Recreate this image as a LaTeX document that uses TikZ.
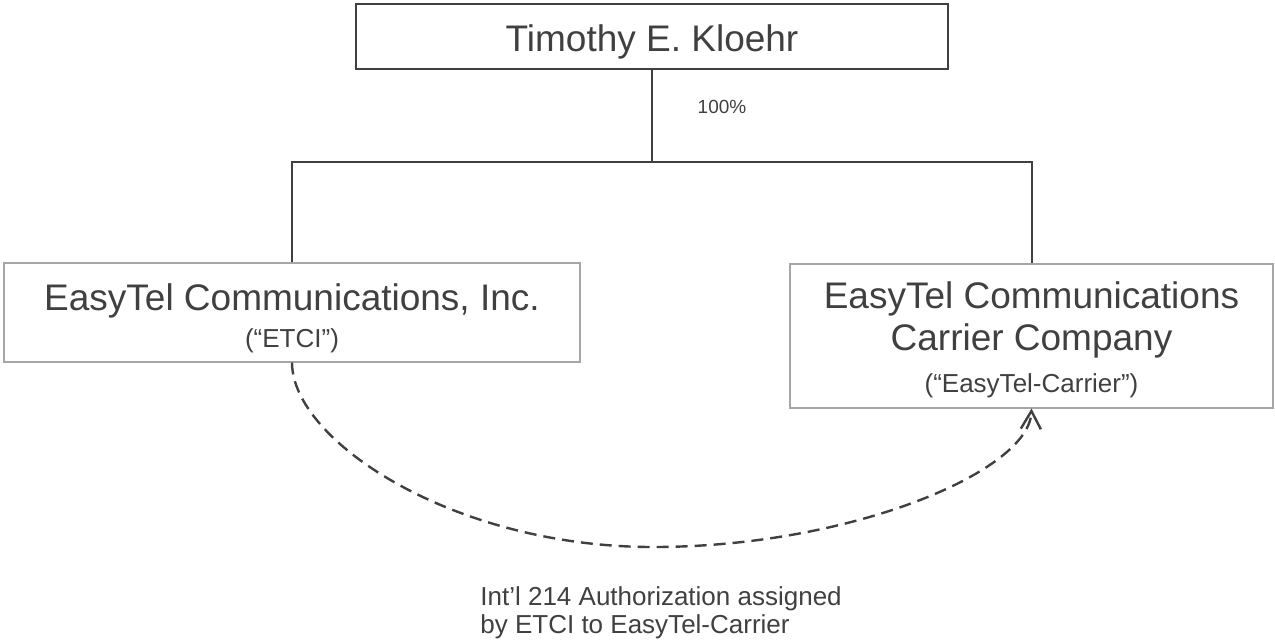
\documentclass[tikz,border=0pt]{standalone}
\usepackage{fontspec}
\setmainfont{Liberation Sans}
\usetikzlibrary{arrows.meta}
\definecolor{ink}{HTML}{404040}
\definecolor{frame}{HTML}{A6A6A6}
\newcommand{\bigtxt}{\fontsize{18.5pt}{21pt}\selectfont}
\newcommand{\smalltxt}{\fontsize{13pt}{14pt}\selectfont}
\begin{document}
\begin{tikzpicture}[x=0.5pt,y=-0.5pt,
  owner/.style={draw=ink, line width=1pt, inner sep=0pt, text=ink, font=\bigtxt, align=center},
  entity/.style={draw=frame, line width=0.75pt, inner sep=0pt, text=ink, font=\bigtxt, align=center},
  link/.style={draw=ink, line width=1pt},
  assign/.style={draw=ink, line width=1.2pt, dash pattern=on 6pt off 3.5pt, -{Straight Barb[length=9pt,width=10pt]}}]
\useasboundingbox (0,0) rectangle (1275,639);
\node[owner, anchor=north, minimum width=296pt, text height=23.5pt, text depth=9pt] (kloehr) at (652,3) {Timothy E. Kloehr};
\node[entity, anchor=north, minimum width=288pt, text height=42.5pt, text depth=7pt] (etci) at (292,262) {EasyTel Communications, Inc.\\[-2.5pt]{\smalltxt (“ETCI”)}};
\node[entity, anchor=north, minimum width=241.5pt, text height=64.5pt, text depth=7.5pt] (carrier) at (1031.5,263) {EasyTel Communications\\Carrier Company\\{\smalltxt (“EasyTel-Carrier”)}};
\node[text=ink, font=\fontsize{9.5pt}{11pt}\selectfont, anchor=base, inner sep=0pt] (share) at (722,113) {100\%};
\node[text=ink, font=\smalltxt, align=left, anchor=base west, inner sep=0pt] (note) at (480,633) {Int’l 214 Authorization assigned\\by ETCI to EasyTel-Carrier};
\coordinate (bus) at (652,162);
\coordinate (low) at (653,547);
\draw[link] (kloehr.south) -- (bus);
\draw[link] (etci.north) |- (bus) -| (carrier.north);
\draw[assign] (etci.south) .. controls +(0,78) and +(-200,0) .. (low) .. controls +(197,0) and +(-2,63) .. (carrier.south);
\end{tikzpicture}
\end{document}
